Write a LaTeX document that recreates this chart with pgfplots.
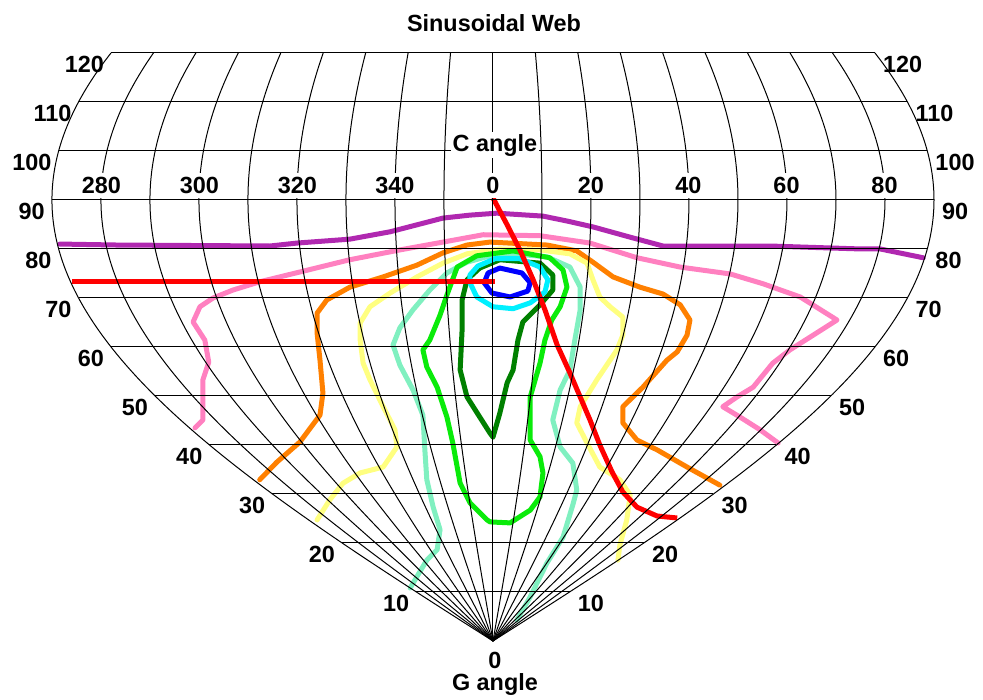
\documentclass[border=0pt]{standalone}
\usepackage{fontspec}
\setmainfont{Liberation Sans}
\usepackage{pgfplots}
\pgfplotsset{compat=1.18}
\definecolor{cpurple}{RGB}{176,40,176}
\definecolor{cpink}{RGB}{255,128,192}
\definecolor{corange}{RGB}{255,128,0}
\definecolor{cyellow}{RGB}{255,255,128}
\definecolor{cmint}{RGB}{128,240,192}
\definecolor{cgreen}{RGB}{10,235,10}
\definecolor{cdgreen}{RGB}{0,128,0}
\definecolor{ccyan}{RGB}{0,240,255}
\definecolor{cblue}{RGB}{0,0,255}
\definecolor{cred}{RGB}{255,0,0}
\tikzset{
  contour/.style={line width=5bp,line join=round,line cap=round},
  gridl/.style={black,line width=1bp},
  lab/.style={font=\bfseries\fontsize{23.5}{25}\selectfont,inner sep=0pt}}
\begin{document}
\begin{tikzpicture}
\begin{axis}[width=983bp,height=700bp,scale only axis,
  xmin=-100.6,xmax=100.0,ymin=-12.04,ymax=130.8,
  hide axis, clip=false]
\path (rel axis cs:0,0) rectangle (rel axis cs:1,1);
% purple
\addplot[contour,cpurple,mark=none] coordinates {(-88.4,81.0)(-76.7,80.8)(-45.5,80.6)(-40.0,81.2)(-29.2,82.0)(-21.0,83.5)(-10.2,86.3)(-4.7,86.9)(0.8,87.3)(10.2,86.7)(15.1,85.7)(20.4,84.5)(28.0,82.4)(34.7,80.6)(56.5,80.6)(74.9,80.0)(79.0,80.0)(87.8,78.2)};
% pink
\addplot[contour,cpink,mark=none] coordinates {(-60.8,43.5)(-59.2,45.1)(-59.2,53.3)(-58.0,56.9)(-58.8,61.4)(-61.2,65.1)(-59.8,68.2)(-57.1,70.0)(-53.1,71.6)(-47.6,73.3)(-39.4,75.3)(-29.2,77.8)(-19.0,79.8)(-10.2,81.4)(-2.0,82.9)(9.6,82.7)(19.8,81.2)(29.4,78.2)(38.2,76.3)(48.4,74.9)(55.1,72.9)(62.7,70.2)(70.2,65.5)(64.7,62.0)(60.6,59.4)(57.1,56.7)(53.1,51.8)(49.8,49.8)(46.9,47.8)(50.4,45.7)(54.5,43.1)(58.2,40.4)};
% orange
\addplot[contour,corange,mark=none] coordinates {(-47.6,32.9)(-44.1,36.5)(-39.4,40.6)(-35.3,46.1)(-34.7,50.6)(-35.3,57.3)(-35.9,62.9)(-35.9,66.9)(-33.9,69.6)(-29.2,72.2)(-22.4,74.3)(-15.5,76.7)(-10.2,79.2)(-5.3,80.8)(-0.6,81.4)(11.0,80.8)(17.1,79.6)(20.4,77.3)(24.5,74.3)(30.0,72.2)(34.7,70.8)(38.2,68.6)(40.2,65.5)(39.6,62.4)(37.6,59.0)(35.5,57.3)(30.6,51.8)(26.5,47.8)(26.5,44.5)(29.4,41.0)(33.5,39.0)(39.6,35.5)(46.3,31.8)};
% yellow
\addplot[contour,cyellow,mark=none] coordinates {(-35.9,24.7)(-33.3,28.8)(-30.6,32.2)(-27.1,34.3)(-22.4,35.5)(-19.6,39.6)(-20.0,43.1)(-22.4,47.8)(-25.1,53.3)(-26.5,56.7)(-27.1,61.4)(-27.1,64.9)(-25.1,68.2)(-21.0,71.0)(-15.5,74.3)(-10.2,77.1)(-5.3,79.0)(1.4,80.0)(9.6,79.8)(15.7,79.0)(19.2,77.1)(20.4,73.7)(21.8,70.2)(23.9,68.2)(26.5,66.1)(26.5,62.4)(25.3,59.4)(21.2,53.3)(17.8,47.8)(17.1,44.5)(19.2,40.4)(21.8,35.5)(25.9,32.9)(28.0,29.8)(27.3,24.7)(25.9,19.6)(25.5,16.5)};
% mint
\addplot[contour,cmint,mark=none] coordinates {(-16.9,10.8)(-15.3,13.5)(-13.5,16.5)(-11.4,18.6)(-10.8,22.7)(-12.2,27.3)(-13.5,32.9)(-13.9,39.0)(-14.3,46.1)(-16.3,51.2)(-19.0,56.3)(-20.4,60.4)(-19.0,63.9)(-16.3,67.6)(-12.9,71.6)(-9.4,75.1)(-5.3,77.3)(-0.6,78.6)(4.1,79.0)(11.0,78.4)(15.7,76.3)(17.8,72.2)(17.8,67.6)(16.7,61.4)(15.7,55.3)(13.7,51.2)(12.2,45.1)(13.7,39.6)(16.3,36.3)(17.1,30.8)(16.3,27.8)(14.3,21.2)(11.0,15.9)(7.6,9.0)(4.9,4.3)};
% green (closed)
\addplot[contour,cgreen,mark=none] coordinates {(-0.6,24.3)(3.5,24.1)(7.6,26.7)(9.6,29.4)(10.2,34.3)(9.6,37.6)(7.6,41.0)(7.6,49.8)(9.6,56.7)(10.6,61.4)(12.0,65.5)(13.7,68.2)(15.1,72.2)(14.3,75.7)(11.6,78.2)(4.1,79.6)(-3.3,78.6)(-7.3,76.3)(-9.4,70.6)(-10.8,66.5)(-12.9,61.4)(-14.3,59.4)(-13.5,55.9)(-11.4,51.8)(-9.4,45.7)(-8.2,40.4)(-6.7,32.2)(-4.7,28.2)(-1.2,24.7)(-0.6,24.3)};
% dark green (closed)
\addplot[contour,cdgreen,mark=none] coordinates {(0,41.6)(1.4,46.5)(2.9,52.7)(4.1,55.3)(5.1,61.4)(6.1,65.1)(9.6,68.6)(12.2,71.6)(12.2,74.7)(9.6,77.1)(1.4,77.8)(-2.7,76.1)(-5.3,73.7)(-6.3,69.6)(-6.3,63.5)(-6.7,55.3)(-5.3,49.8)(-2.7,45.7)(-0.6,42.4)(0,41.6)};
% cyan (closed)
\addplot[contour,ccyan,mark=none] coordinates {(-4.7,73.1)(-3.3,70.2)(0,68.2)(4.1,67.8)(7.6,69.0)(10.6,71.2)(11.2,73.7)(9.6,76.3)(5.5,78.0)(0.4,78.0)(-3.1,76.5)(-4.7,74.7)(-4.7,73.1)};
% blue (closed)
\addplot[contour,cblue,mark=none] coordinates {(-1.8,73.1)(-0.2,71.0)(3.5,70.2)(7.1,71.4)(7.6,73.1)(5.9,75.1)(1.4,76.1)(-1.0,75.1)(-1.8,73.1)};
% red
\addplot[contour,cred,line cap=butt,mark=none] coordinates {(-85.9,73.3)(0.4,73.3)};
\addplot[contour,cred,line cap=butt,mark=none] coordinates {(0,90.4)(2.9,84.9)(5.5,79.8)(8.2,73.7)(10.6,67.6)(13.1,60.4)(15.7,54.7)(19.8,45.1)(21.8,40.0)(24.3,34.5)(26.5,30.4)(29.4,27.3)(33.5,25.5)(37.6,25.1)};
% grid: parallels
\pgfplotsinvokeforeach{10,20,...,120}{
  \addplot[gridl,mark=none,domain=-90:90,samples=2] ({x*sin(#1)},{#1});
}
% grid: meridians
\pgfplotsinvokeforeach{-90,-80,...,90}{
  \addplot[gridl,mark=none,domain=0:120,samples=61,smooth] ({#1*sin(x)},{x});
}
% G labels
\foreach \g/\e in {10/15.63,20/30.78,30/45.0,40/57.85,50/68.94,60/77.94,70/84.57,80/88.63,90/90,100/88.63,110/84.57,120/77.94}{
  \edef\tmp{\noexpand\node[lab,anchor=north east,xshift=-7bp,yshift=-3bp] at (axis cs:-\e,\g) {\g};}\tmp
  \edef\tmp{\noexpand\node[lab,anchor=north west,xshift=8bp,yshift=-3bp] at (axis cs:\e,\g) {\g};}\tmp
}
% C labels
\foreach \c/\t in {-79.9/280,-59.9/300,-39.9/320,-20.0/340,0/0,20.0/20,39.9/40,59.9/60,79.9/80}{
  \edef\tmp{\noexpand\node[lab,fill=white,inner xsep=2bp,inner ysep=4bp] at (axis cs:\c,92.9) {\t};}\tmp
}
\node[lab,fill=white,inner sep=2bp] at (axis cs:0.4,101.2) {C angle};
\node[lab] at (axis cs:0.4,-3.9) {0};
\node[lab] at (axis cs:0.4,-8.8) {G angle};
\node[lab] at (axis cs:0.2,126.1) {Sinusoidal Web};
\end{axis}
\end{tikzpicture}
\end{document}
